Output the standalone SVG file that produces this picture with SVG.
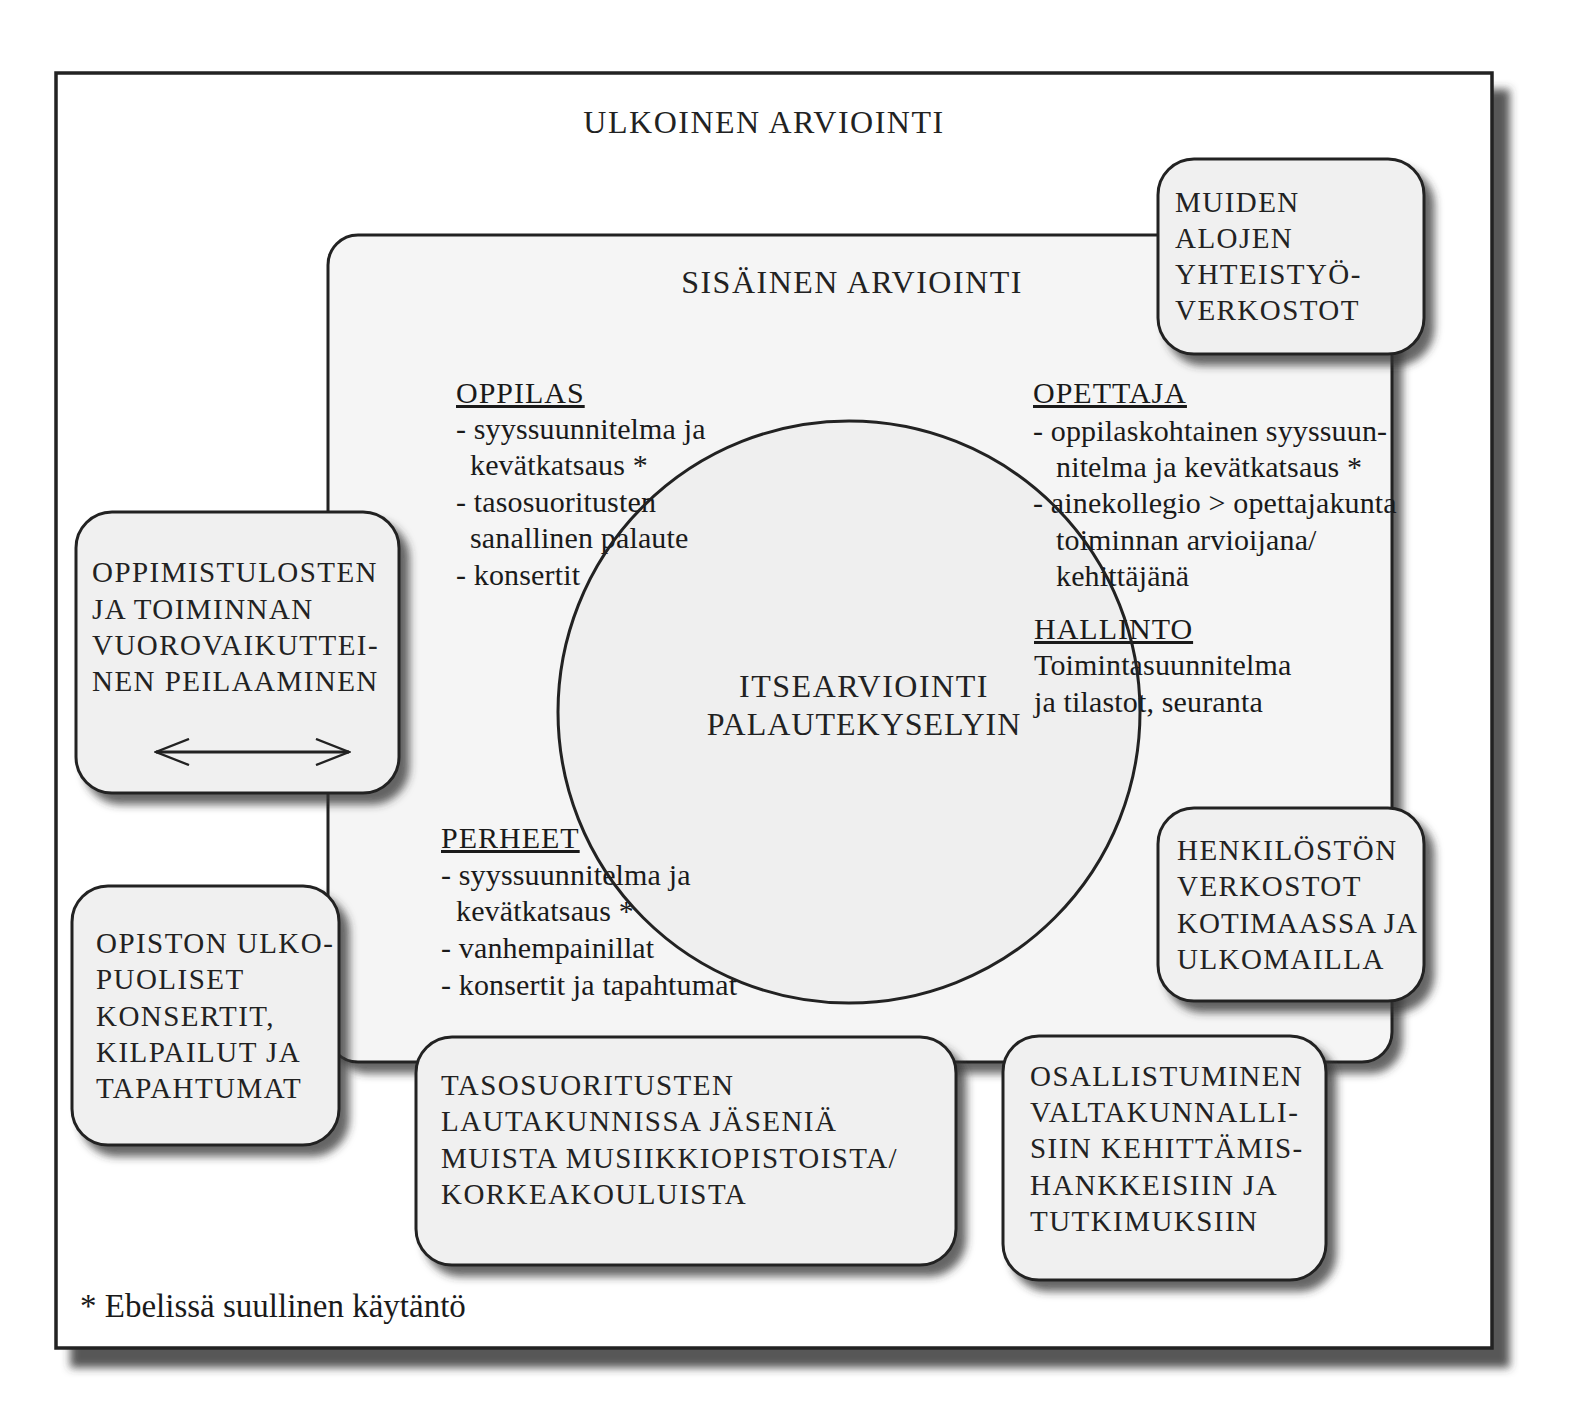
<svg xmlns="http://www.w3.org/2000/svg" width="1580" height="1418" viewBox="0 0 1580 1418">
<defs>
<filter id="shOuter" x="-5%" y="-5%" width="115%" height="115%">
<feDropShadow dx="16" dy="18" stdDeviation="4" flood-color="#3a3a3a" flood-opacity="0.85"/>
</filter>
<filter id="shBox" x="-10%" y="-10%" width="130%" height="130%">
<feDropShadow dx="9" dy="10" stdDeviation="4" flood-color="#333" flood-opacity="0.75"/>
</filter>
<marker id="chev" viewBox="0 0 36 28" refX="34" refY="14" markerWidth="36" markerHeight="28" markerUnits="userSpaceOnUse" orient="auto-start-reverse">
<path d="M1 1 L34 14 L1 27" fill="none" stroke="#222" stroke-width="2.4"/>
</marker>
<style>
.frame{fill:#fff;stroke:#222;stroke-width:3.5}
.inner{fill:#f5f5f5;stroke:#222;stroke-width:3}
.box{fill:#f0f0f0;stroke:#222;stroke-width:3}
.cap{font-family:"Liberation Serif","DejaVu Serif",serif;font-size:29px;letter-spacing:1.45px;fill:#222}
.big{font-family:"Liberation Serif","DejaVu Serif",serif;font-size:32px;letter-spacing:1.5px;fill:#222}
.lc{font-family:"Liberation Serif","Times New Roman",serif;font-size:30px;letter-spacing:0.15px;fill:#1a1a1a}
.fn{font-family:"Liberation Serif","Times New Roman",serif;font-size:33px;fill:#1a1a1a}
.hd{text-decoration:underline;letter-spacing:1px}
</style>
</defs>

<g id="ulkoinen">
<rect class="frame" x="56" y="73" width="1436" height="1275" filter="url(#shOuter)"/>
<text class="big" x="764" y="133" text-anchor="middle">ULKOINEN ARVIOINTI</text>
<text class="fn" x="80" y="1317">* Ebelissä suullinen käytäntö</text>
</g>

<g id="sisainen">
<rect class="inner" x="328" y="235" width="1064" height="827" rx="30" filter="url(#shBox)"/>
<text class="big" x="852" y="293" text-anchor="middle">SISÄINEN ARVIOINTI</text>
</g>

<g id="itsearviointi">
<circle cx="849" cy="712" r="291" fill="#efefef"/>
<text class="big" x="864" y="697" text-anchor="middle">ITSEARVIOINTI</text>
<text class="big" x="864" y="735" text-anchor="middle" style="letter-spacing:1px">PALAUTEKYSELYIN</text>
</g>

<g id="oppilas">
<text class="lc hd" x="456" y="403">OPPILAS</text>
<text class="lc" x="456" y="439">- syyssuunnitelma ja</text>
<text class="lc" x="470" y="475">kevätkatsaus *</text>
<text class="lc" x="456" y="512">- tasosuoritusten</text>
<text class="lc" x="470" y="548">sanallinen palaute</text>
<text class="lc" x="456" y="585">- konsertit</text>
</g>

<g id="opettaja">
<text class="lc hd" x="1033" y="403">OPETTAJA</text>
<text class="lc" x="1033" y="441">- oppilaskohtainen syyssuun-</text>
<text class="lc" x="1056" y="477">nitelma ja kevätkatsaus *</text>
<text class="lc" x="1033" y="513">- ainekollegio &gt; opettajakunta</text>
<text class="lc" x="1056" y="550">toiminnan arvioijana/</text>
<text class="lc" x="1056" y="586">kehittäjänä</text>
</g>

<g id="hallinto">
<text class="lc hd" x="1034" y="639">HALLINTO</text>
<text class="lc" x="1034" y="675">Toimintasuunnitelma</text>
<text class="lc" x="1034" y="712">ja tilastot, seuranta</text>
</g>

<g id="perheet">
<text class="lc hd" x="441" y="848">PERHEET</text>
<text class="lc" x="441" y="885">- syyssuunnitelma ja</text>
<text class="lc" x="456" y="921">kevätkatsaus *</text>
<text class="lc" x="441" y="958">- vanhempainillat</text>
<text class="lc" x="441" y="995">- konsertit ja tapahtumat</text>
</g>

<circle cx="849" cy="712" r="291" fill="none" stroke="#222" stroke-width="3"/>

<g id="muiden">
<rect class="box" x="1158" y="159" width="266" height="195" rx="36" filter="url(#shBox)"/>
<text class="cap" x="1175" y="212">MUIDEN</text>
<text class="cap" x="1175" y="248">ALOJEN</text>
<text class="cap" x="1175" y="284">YHTEISTYÖ-</text>
<text class="cap" x="1175" y="320">VERKOSTOT</text>
</g>

<g id="oppimistulosten">
<rect class="box" x="76" y="512" width="323" height="281" rx="36" filter="url(#shBox)"/>
<text class="cap" x="92" y="582">OPPIMISTULOSTEN</text>
<text class="cap" x="92" y="619">JA TOIMINNAN</text>
<text class="cap" x="92" y="655">VUOROVAIKUTTEI-</text>
<text class="cap" x="92" y="691">NEN PEILAAMINEN</text>
</g>

<g id="opiston">
<rect class="box" x="72" y="886" width="267" height="259" rx="36" filter="url(#shBox)"/>
<text class="cap" x="96" y="953">OPISTON ULKO-</text>
<text class="cap" x="96" y="989">PUOLISET</text>
<text class="cap" x="96" y="1026">KONSERTIT,</text>
<text class="cap" x="96" y="1062">KILPAILUT JA</text>
<text class="cap" x="96" y="1098">TAPAHTUMAT</text>
</g>

<g id="tasosuoritusten">
<rect class="box" x="416" y="1037" width="540" height="228" rx="36" filter="url(#shBox)"/>
<text class="cap" x="441" y="1095">TASOSUORITUSTEN</text>
<text class="cap" x="441" y="1131">LAUTAKUNNISSA JÄSENIÄ</text>
<text class="cap" x="441" y="1168">MUISTA MUSIIKKIOPISTOISTA/</text>
<text class="cap" x="441" y="1204">KORKEAKOULUISTA</text>
</g>

<g id="henkiloston">
<rect class="box" x="1158" y="808" width="266" height="193" rx="36" filter="url(#shBox)"/>
<text class="cap" x="1177" y="860">HENKILÖSTÖN</text>
<text class="cap" x="1177" y="896">VERKOSTOT</text>
<text class="cap" x="1177" y="933" style="letter-spacing:1px">KOTIMAASSA JA</text>
<text class="cap" x="1177" y="969">ULKOMAILLA</text>
</g>

<g id="osallistuminen">
<rect class="box" x="1003" y="1036" width="323" height="244" rx="36" filter="url(#shBox)"/>
<text class="cap" x="1030" y="1086">OSALLISTUMINEN</text>
<text class="cap" x="1030" y="1122">VALTAKUNNALLI-</text>
<text class="cap" x="1030" y="1158">SIIN KEHITTÄMIS-</text>
<text class="cap" x="1030" y="1195">HANKKEISIIN JA</text>
<text class="cap" x="1030" y="1231">TUTKIMUKSIIN</text>
</g>

<g id="connectors">
<line x1="156" y1="752" x2="349" y2="752" stroke="#222" stroke-width="3" marker-start="url(#chev)" marker-end="url(#chev)"/>
</g>
</svg>
